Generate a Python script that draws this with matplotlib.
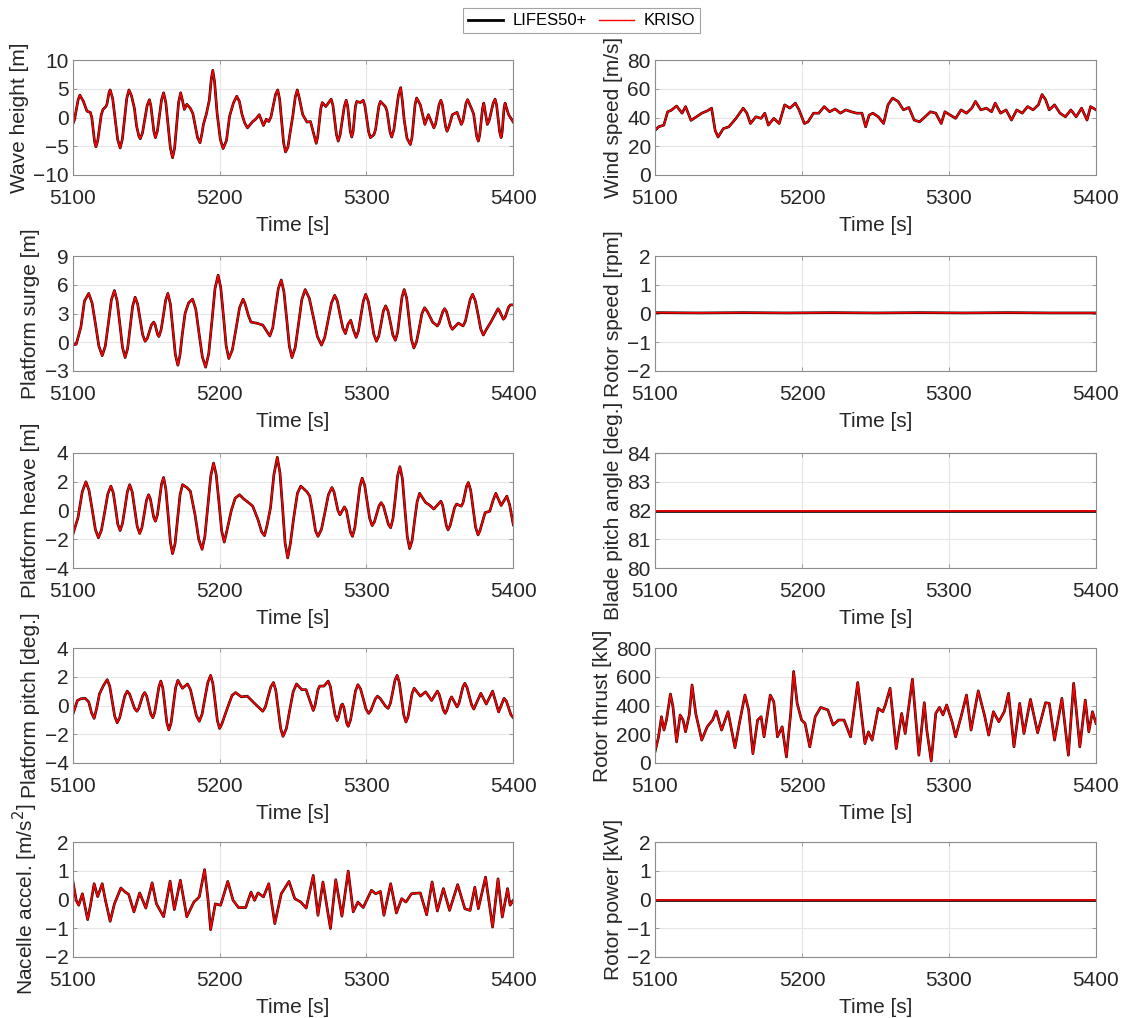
import numpy as np
import matplotlib
matplotlib.use("Agg")
import matplotlib.pyplot as plt

plt.rcParams['font.family'] = ['Liberation Sans', 'DejaVu Sans']

# ---- data: (time [s], value) ----
wave = [(5100, -1.2), (5101.2, -0.4), (5103.7, 3.1), (5104.9, 3.9), (5107.3, 2.8), (5109.7, 1.1),
        (5112, 0.9), (5113, 0.0), (5114.9, -4.2), (5115.8, -5.1), (5117, -4.1), (5119.4, 0.4),
        (5120.6, 1.4), (5122.6, 1.9), (5123.3, 2.3), (5124.8, 4.4), (5125.5, 4.8), (5127.2, 3.3),
        (5130.6, -3.8), (5132.3, -5.3), (5133.8, -3.8), (5136.8, 3.3), (5138.3, 4.8), (5140, 3.8),
        (5142, 1.6), (5143.5, -1.5), (5145, -3.2), (5146, -3.7), (5147.5, -2.7), (5150.7, 2.1),
        (5152.2, 3.1), (5153.2, 2.1), (5155.3, -2.5), (5156.3, -3.5), (5157.7, -2.3), (5160.5, 3.1),
        (5161.9, 4.3), (5163.4, 2.6), (5166.5, -5.3), (5168, -7.0), (5169.4, -5.3), (5172.1, 2.6),
        (5173.5, 4.3), (5174.7, 3.0), (5176, 1.4), (5177.7, 2.3), (5180.1, 1.6), (5181.8, 0.7),
        (5185, -3.5), (5186.7, -4.4), (5188, -2.8), (5189, -1.2), (5191, 0.6), (5193, 3.0),
        (5194.4, 6.8), (5195.4, 8.2), (5196.6, 6.2), (5198.3, 0.8), (5200.5, -3.8), (5202.4, -5.4),
        (5204.7, -4.0), (5206.8, 0.2), (5209.4, 2.5), (5211.7, 3.7), (5213.5, 2.8), (5215.3, 0.5),
        (5217.2, -1.0), (5219, -1.8), (5222.6, -0.7), (5224.6, -0.3), (5227, 0.5), (5229.9, -1.4),
        (5231.8, -0.3), (5233.5, -0.7), (5235, 0.1), (5238.1, 4.0), (5239.6, 4.8), (5240.9, 3.2),
        (5243.6, -4.4), (5244.9, -6.0), (5246.5, -5.2), (5248, -2.7), (5250, 0.5), (5251.5, 3.5),
        (5252.9, 4.8), (5254.2, 3.5), (5256.6, 0.5), (5259.5, -0.8), (5261.9, -0.7), (5264.2, -2.9),
        (5265.8, -4.5), (5266.8, -3.4), (5268.9, 1.5), (5269.9, 2.6), (5272.3, 1.9), (5276, 3.2),
        (5277.2, 2.1), (5279.6, -3.0), (5280.8, -4.1), (5282.1, -3.0), (5284.9, 1.9), (5286.2, 3.0),
        (5287.2, 2.0), (5289, -2.4), (5290, -3.4), (5290.9, -2.5), (5292.5, 1.9), (5293.4, 2.8),
        (5295.9, 2.6), (5297.8, 3.0), (5299, 2.0), (5301.5, -2.5), (5302.7, -3.5), (5305.1, -3.0),
        (5306.2, -2.1), (5308.4, 1.9), (5309.5, 2.8), (5312.9, 1.9), (5314, 1.1), (5316.1, -2.6),
        (5317.2, -3.4), (5318.7, -2.1), (5321.8, 3.9), (5323.3, 5.2), (5324.4, 3.0), (5325.7, -0.4),
        (5327.6, -3.6), (5329.9, -4.7), (5331, -3.5), (5333.1, 2.2), (5334.2, 3.4), (5336.7, 2.2),
        (5339.8, -1.2), (5342.2, 0.5), (5345.9, -1.8), (5347.1, -1.1), (5349.5, 2.3), (5350.7, 3.0),
        (5351.7, 2.2), (5353.9, -1.6), (5354.9, -2.4), (5356.3, -1.5), (5358.5, 0.5), (5361.7, 0.9),
        (5364.6, -1.2), (5365.7, -0.6), (5367.8, 2.5), (5368.9, 3.1), (5371.8, 1.4), (5373, 0.6),
        (5375.1, -3.3), (5376.2, -4.1), (5377.1, -3.1), (5379, 1.5), (5379.9, 2.5), (5382.3, -1.2),
        (5383.6, -0.5), (5386.3, 2.5), (5387.6, 3.2), (5388.6, 2.2), (5390.7, -2.5), (5391.7, -3.5),
        (5392.4, -2.6), (5393.7, 1.6), (5394.4, 2.5), (5396.8, 0.5), (5400, -0.8)]

surge = [(5100, -0.3), (5102.4, -0.2), (5105.6, 1.6), (5108, 4.3), (5110.9, 5.1), (5113.2, 4.1),
         (5115.5, 1.9), (5117.8, -0.4), (5120.1, -1.4), (5122.2, -0.4), (5124.3, 2.0), (5126.3, 4.4),
         (5128.4, 5.4), (5130.2, 4.35), (5132.1, 1.9), (5133.9, -0.55), (5135.7, -1.6), (5137.4, -0.65),
         (5139.1, 1.55), (5140.8, 3.75), (5142.5, 4.7), (5144.2, 4.0), (5145.9, 2.4), (5147.6, 0.8),
         (5149.3, 0.1), (5150.8, 0.4), (5153.6, 1.8), (5155.1, 2.1), (5156, 1.9), (5157.8, 0.8),
         (5158.7, 0.6), (5160.2, 1.3), (5161.8, 2.85), (5163.3, 4.4), (5164.8, 5.1), (5166.5, 4.0),
         (5168.2, 1.35), (5169.9, -1.3), (5171.6, -2.4), (5173, -1.4), (5174.6, 0.8), (5176.5, 3.0),
         (5178.9, 4.1), (5181.6, 4.5), (5183.8, 3.45), (5186, 0.95), (5188.3, -1.55), (5190.5, -2.6),
         (5192.6, -1.2), (5194.8, 2.2), (5196.9, 5.6), (5199, 7.0), (5200.8, 5.7), (5202.7, 2.65),
         (5204.5, -0.4), (5206.3, -1.7), (5208.7, -0.8), (5211.2, 1.4), (5213.6, 3.6), (5216, 4.5),
         (5217.4, 4.0), (5219.6, 2.8), (5221.4, 2.1), (5225, 2.0), (5229.4, 1.8), (5234.2, 0.65),
         (5236.2, 1.5), (5238.1, 3.6), (5240, 5.6), (5242, 6.5), (5243.8, 5.3), (5245.7, 2.45),
         (5247.5, -0.4), (5249.3, -1.6), (5251.5, -0.55), (5253.8, 1.95), (5256, 4.45), (5258.3, 5.5),
         (5261.1, 4.6), (5263.9, 2.6), (5266.6, 0.6), (5269.4, -0.3), (5271.6, 0.5), (5273.9, 2.3),
         (5276.2, 4.1), (5278.4, 4.9), (5280.2, 4.3), (5282, 2.9), (5283.9, 1.5), (5285.7, 0.9),
         (5287.5, 1.9), (5289.3, 2.3), (5291.1, 1.3), (5293, 0.5), (5294.6, 1.2), (5296.2, 2.75),
         (5297.9, 4.3), (5299.5, 5.0), (5301.3, 4.25), (5303.2, 2.55), (5305, 0.85), (5306.8, 0.1),
         (5308.4, 0.65), (5310, 1.95), (5311.5, 3.25), (5313.1, 3.8), (5314.7, 3.25), (5316.4, 2.0),
         (5318, 0.75), (5319.7, 0.2), (5321.2, 1.0), (5322.7, 2.85), (5324.2, 4.7), (5325.7, 5.5),
         (5327.4, 4.6), (5329, 2.45), (5330.6, 0.3), (5332.3, -0.6), (5334.1, 0.05), (5336, 1.5),
         (5337.8, 3.0), (5339.6, 3.6), (5341.5, 3.2), (5345.1, 2.1), (5348.3, 1.7), (5349.5, 2.0),
         (5352, 3.2), (5353.2, 3.5), (5354.5, 3.2), (5357.2, 1.7), (5358.5, 1.35), (5362.6, 2.0),
         (5365.8, 1.7), (5367.4, 2.2), (5369, 3.35), (5370.7, 4.5), (5372.3, 5.0), (5374.1, 4.35),
         (5376, 2.9), (5377.8, 1.4), (5379.6, 0.75), (5381.5, 1.3), (5384.7, 2.1), (5389.6, 3.5),
         (5390.5, 3.3), (5393.2, 2.4), (5394.4, 2.6), (5396.9, 3.7), (5398.1, 3.9), (5400, 3.9)]

heave = [(5100, -1.7), (5103.6, -0.5), (5106.5, 1.3), (5109, 2.0), (5111.1, 1.4), (5113.3, 0.05),
         (5115.4, -1.3), (5117.5, -1.9), (5119.6, -1.35), (5121.8, -0.1), (5123.9, 1.15), (5126, 1.7),
         (5127.6, 1.25), (5129.2, 0.15), (5130.7, -0.95), (5132.3, -1.4), (5133.9, -0.9), (5135.6, 0.2),
         (5137.2, 1.3), (5138.8, 1.8), (5140.5, 1.3), (5142.2, 0.1), (5143.9, -1.1), (5145.6, -1.6),
         (5147.1, -1.2), (5148.7, -0.25), (5150.2, 0.7), (5151.7, 1.1), (5152.9, 0.8), (5155.1, -0.45),
         (5156.3, -0.75), (5157.7, -0.3), (5159.1, 0.8), (5160.5, 1.85), (5161.9, 2.3), (5163.4, 1.5),
         (5165, -0.35), (5166.5, -2.2), (5168, -3.0), (5169.7, -2.3), (5171.4, -0.6), (5173.1, 1.1),
         (5174.8, 1.8), (5177.7, 1.6), (5180.1, 1.35), (5183.3, -0.3), (5185.8, -2.0), (5188.1, -2.7),
         (5190, -1.8), (5192, 0.3), (5194, 2.4), (5195.9, 3.3), (5197.7, 2.5), (5199.6, 0.55),
         (5201.4, -1.4), (5203.2, -2.2), (5205, -1.4), (5208, 0.0), (5210.6, 0.85), (5213.6, 1.1),
         (5216.5, 0.8), (5219.7, 0.55), (5222.6, 0.3), (5226.2, -0.65), (5228.7, -1.5), (5230.6, -1.75),
         (5232.4, -1.0), (5234.7, 0.2), (5237, 2.5), (5239.3, 3.7), (5241.1, 2.65), (5242.9, 0.2),
         (5244.6, -2.25), (5246.4, -3.3), (5248.2, -2.3), (5250.5, -0.5), (5253, 1.2), (5255.3, 1.7),
         (5259.5, 1.3), (5261.4, 1.0), (5263.5, -0.2), (5265.3, -1.4), (5267, -1.8), (5269.4, -1.3),
         (5271.8, -0.1), (5274.1, 1.1), (5276.5, 1.6), (5277.9, 1.3), (5280.6, 0.0), (5282, -0.3),
         (5285, 0.25), (5286.4, 0.0), (5289.1, -1.5), (5290.5, -1.8), (5292.1, -1.2), (5293.8, 0.2),
         (5295.5, 1.65), (5297.1, 2.25), (5298.8, 1.75), (5300.5, 0.6), (5302.2, -0.55), (5303.9, -1.05),
         (5305.4, -0.8), (5308.5, 0.3), (5310, 0.55), (5311.6, 0.3), (5314.9, -0.95), (5316.5, -1.2),
         (5318.1, -0.55), (5319.7, 0.9), (5321.2, 2.4), (5322.8, 3.05), (5324.5, 2.2), (5326.1, 0.2),
         (5327.8, -1.8), (5329.4, -2.65), (5331.1, -2.1), (5332.8, -0.7), (5334.5, 0.6), (5336.2, 1.2),
         (5340.3, 0.55), (5342.7, 0.4), (5345.9, 0.1), (5350.7, 0.65), (5351.9, 0.35), (5354.4, -1.05),
         (5355.6, -1.35), (5357, -1.05), (5360, 0.2), (5361.4, 0.45), (5364.6, 0.3), (5365.8, 0.55),
         (5368.2, 1.7), (5369.4, 1.95), (5371, 1.4), (5372.7, 0.1), (5374.3, -1.15), (5376, -1.7),
         (5377.3, -1.4), (5380.8, -0.15), (5384, -0.05), (5386.2, 0.7), (5388.1, 1.2), (5391.7, 0.35),
         (5395.6, 1.0), (5397.5, 0.4), (5400, -1.0)]

pitch = [(5100, -0.65), (5103.2, 0.35), (5105.6, 0.47), (5108.5, 0.5), (5110.9, 0.25), (5112.8, -0.5),
         (5114.6, -0.9), (5116.3, -0.2), (5118.2, 0.8), (5121, 1.4), (5123.5, 1.8), (5125.2, 1.35),
         (5126.9, 0.3), (5128.6, -0.75), (5130.3, -1.2), (5132, -0.85), (5133.7, -0.1), (5135.4, 0.65),
         (5137.1, 1.0), (5138.7, 0.8), (5142.1, -0.2), (5143.7, -0.4), (5145, -0.2), (5147.7, 0.7),
         (5149, 0.9), (5150.4, 0.65), (5153.2, -0.6), (5154.6, -0.85), (5155.9, -0.45), (5158.7, 1.3),
         (5160, 1.7), (5161.4, 1.2), (5164.1, -1.2), (5165.5, -1.7), (5167, -1.2), (5170.1, 1.25),
         (5171.6, 1.75), (5174.7, 1.2), (5178.2, 1.5), (5180.2, 1.1), (5182.2, 0.2), (5184.2, -0.7),
         (5186.2, -1.1), (5188.1, -0.6), (5190, 0.5), (5192, 1.6), (5193.9, 2.1), (5195.4, 1.55),
         (5197, 0.25), (5198.5, -1.05), (5200, -1.6), (5201.5, -1.3), (5205.6, -0.1), (5208.5, 0.7),
         (5210.9, 0.9), (5214.8, 0.6), (5218.9, 0.65), (5223.8, 0.15), (5229.4, -0.4), (5231.2, -0.1),
         (5233, 0.6), (5234.9, 1.3), (5236.7, 1.6), (5238.3, 1.05), (5240, -0.3), (5241.6, -1.6),
         (5243.2, -2.15), (5245.5, -1.6), (5247.8, -0.3), (5250.1, 0.95), (5252.4, 1.5), (5256, 1.1),
         (5258.9, 1.1), (5261.3, 0.4), (5263.8, -0.35), (5265, 0.0), (5267, 1.1), (5268.2, 1.35),
         (5271.1, 1.35), (5274, 1.7), (5275.5, 1.3), (5277, 0.3), (5278.6, -0.65), (5280.1, -1.05),
         (5281, -0.8), (5282.8, 0.0), (5283.7, 0.1), (5284.7, -0.15), (5286.6, -1.25), (5287.6, -1.45),
         (5289.2, -1.0), (5290.9, 0.0), (5292.5, 1.0), (5294.2, 1.45), (5296, 1.15), (5297.9, 0.45),
         (5299.7, -0.25), (5301.5, -0.55), (5303, -0.35), (5306, 0.45), (5307.5, 0.65), (5309.3, 0.5),
         (5313, -0.05), (5314.8, -0.2), (5316.3, 0.15), (5317.9, 0.95), (5319.4, 1.75), (5320.9, 2.1),
         (5322.4, 1.6), (5323.9, 0.5), (5325.4, -0.65), (5326.9, -1.15), (5328.3, -0.8), (5331.1, 0.85),
         (5332.5, 1.2), (5336.7, 0.65), (5340.3, 0.95), (5344.4, 0.35), (5348.3, 1.0), (5349.6, 0.75),
         (5352.3, -0.3), (5353.6, -0.55), (5354.7, -0.35), (5356.9, 0.4), (5358, 0.6), (5361.7, -0.1),
         (5363, 0.15), (5365.7, 1.3), (5367, 1.55), (5368.5, 1.25), (5371.6, 0.05), (5373.1, -0.25),
         (5377.9, 0.85), (5381.6, 0.1), (5385.9, 1.0), (5390, -0.45), (5393.7, 0.5), (5395.3, 0.3),
         (5398.4, -0.65), (5400, -0.85)]

nacelle = [(5100, 0.67), (5102.4, -0.03), (5104.1, -0.2), (5106.6, 0.2), (5110.2, -0.7), (5112.1, -0.2),
           (5114.6, 0.55), (5117, 0.1), (5120.1, 0.55), (5122.3, -0.03), (5125.5, -0.76), (5128.4, -0.15),
           (5132.8, 0.4), (5135.7, 0.26), (5138.1, 0.18), (5141.7, -0.43), (5145.6, 0.23), (5149.8, -0.3),
           (5154.1, 0.58), (5157, -0.15), (5161.9, -0.6), (5166.3, 0.64), (5169.2, -0.35), (5173.3, 0.67),
           (5177.7, -0.6), (5182.5, -0.09), (5186.2, 0.09), (5189.8, 1.04), (5192.2, -0.03), (5193.9, -1.05),
           (5197.1, -0.15), (5200.7, -0.2), (5205.6, 0.63), (5209.2, -0.03), (5212.9, -0.28), (5217.8, -0.28),
           (5221.4, 0.26), (5223.8, -0.03), (5226.2, 0.23), (5229.9, 0.09), (5233.5, 0.55), (5237.6, -0.84),
           (5242, 0.2), (5247.3, 0.63), (5251.2, 0.03), (5255.3, -0.09), (5259, -0.3), (5263.8, 0.84),
           (5267, -0.55), (5270.4, 0.61), (5275.5, -1.01), (5279.1, 0.69), (5283.3, -0.58), (5287.6, 0.99),
           (5291, -0.43), (5294.2, -0.09), (5297.8, -0.28), (5303.4, 0.32), (5306.3, 0.2), (5309.5, 0.28),
           (5311.9, -0.55), (5316.5, 0.55), (5320.4, -0.47), (5324, 0.03), (5326.9, -0.09), (5330.6, 0.2),
           (5336.7, 0.23), (5341, -0.53), (5344.7, 0.61), (5348.3, -0.4), (5352.4, 0.38), (5356.6, -0.38),
           (5362.1, 0.52), (5367, -0.32), (5370.6, -0.38), (5373.8, 0.43), (5376.2, -0.32), (5381.1, 0.78),
           (5385.9, -0.96), (5389.6, 0.72), (5392.5, -0.61), (5396.1, 0.38), (5397.8, -0.2), (5400, -0.03)]

wind = [(5100, 31), (5102.4, 33.5), (5106, 34.7), (5108.6, 44), (5111, 45), (5114.7, 48), (5118.4, 43),
        (5120.8, 47.6), (5124.5, 38), (5128.2, 40.5), (5131.8, 43), (5135.5, 44.6), (5138.5, 46.5),
        (5140.9, 31), (5142.9, 26.4), (5146.5, 32.3), (5150.2, 33.5), (5155.1, 39.4), (5160, 46.5),
        (5162.5, 43), (5164.9, 35.8), (5168.6, 40.5), (5172.2, 39.4), (5174.7, 43), (5177.1, 34.7),
        (5180.8, 39.4), (5184.5, 35.8), (5188.2, 48.8), (5191.8, 46.5), (5195.5, 50), (5198, 45.3),
        (5201.6, 35.8), (5204.1, 37), (5207.8, 43), (5211.4, 43), (5215.1, 47.6), (5218.8, 44),
        (5222.5, 46), (5226.1, 43), (5229.8, 45.3), (5233.5, 44), (5237.2, 43), (5240.8, 43),
        (5243.3, 33.5), (5245.7, 41.7), (5248.2, 43), (5251.9, 40.5), (5255.5, 35.8), (5258.5, 48.8),
        (5261.6, 53.5), (5265.3, 51.2), (5269, 45.3), (5272.7, 47), (5276.3, 38.2), (5280, 37),
        (5283.7, 40.5), (5287.4, 44), (5291, 43), (5294.7, 35.8), (5297.2, 44), (5300.8, 41.7),
        (5304.5, 39.4), (5308.2, 45.3), (5311.9, 43), (5315.5, 46.5), (5318, 51.2), (5321.6, 45.3),
        (5325.3, 46.5), (5329, 44), (5331.4, 50), (5335.1, 43), (5338.8, 45.3), (5342.5, 38.2),
        (5346.1, 45.3), (5349.8, 43), (5353.5, 47.6), (5357.2, 45.3), (5360.8, 48.8), (5363.3, 56),
        (5365.7, 52.4), (5368.2, 45.3), (5371.8, 48.8), (5375.5, 43), (5379.2, 40.5), (5382.9, 45.3),
        (5386.5, 40.5), (5390.2, 46.5), (5393.9, 38.2), (5396.3, 47.6), (5400, 45.3)]

rotor_speed = [(5100, 0.03), (5130, 0.02), (5160, 0.03), (5190, 0.02), (5220, 0.03), (5250, 0.02),
               (5280, 0.03), (5310, 0.02), (5340, 0.03), (5370, 0.02), (5400, 0.02)]

blade_pitch = [(5100, 82.0), (5400, 82.0)]

thrust = [(5100, 77), (5102.4, 182), (5104.4, 322), (5106.1, 229), (5107.8, 299), (5110.5, 480),
          (5112.2, 392), (5114.7, 147), (5117.1, 334), (5119.1, 299), (5120.8, 217), (5123.3, 334),
          (5125.2, 543), (5127.7, 345), (5131.8, 159), (5135.5, 252), (5139.2, 299), (5141.6, 362),
          (5145.3, 229), (5149.7, 357), (5154.4, 107), (5157.6, 287), (5161.2, 473), (5163.7, 369),
          (5166.6, 65), (5169.8, 299), (5172.2, 322), (5174.2, 182), (5178.4, 473), (5180.8, 427),
          (5183.3, 182), (5186.5, 252), (5189.4, 42), (5192.3, 345), (5194.3, 637), (5196.7, 415),
          (5199.7, 299), (5202.1, 275), (5205.3, 112), (5209, 322), (5212.7, 387), (5217.6, 369),
          (5221.2, 264), (5224.9, 299), (5228.6, 299), (5233, 182), (5237.9, 560), (5242.8, 135),
          (5245.2, 217), (5247.7, 159), (5251.8, 380), (5255, 357), (5256.7, 404), (5259.9, 520),
          (5264.1, 100), (5267.8, 345), (5270.2, 205), (5275.1, 583), (5279.5, 54), (5283.2, 420),
          (5284.9, 229), (5287.9, 14), (5291, 345), (5293.5, 387), (5295.9, 334), (5298.4, 404),
          (5302.1, 287), (5304.5, 182), (5308.2, 322), (5311.9, 473), (5315, 229), (5319.9, 502),
          (5324.1, 334), (5327, 194), (5330.2, 357), (5333.9, 287), (5337.6, 357), (5340.5, 485),
          (5344.2, 112), (5348.1, 415), (5351, 205), (5355.4, 443), (5360.3, 210), (5365.7, 420),
          (5368.2, 415), (5371.8, 159), (5376.8, 450), (5381.2, 54), (5384.8, 555), (5389, 112),
          (5392.7, 438), (5395.1, 217), (5397.6, 357), (5400, 275)]

rotor_power = [(5100, 0.0), (5400, 0.0)]

# (series, ylabel, ylim, yticks)
left_panels = [
    (wave, 'Wave height [m]', (-10, 10), [-10, -5, 0, 5, 10]),
    (surge, 'Platform surge [m]', (-3, 9), [-3, 0, 3, 6, 9]),
    (heave, 'Platform heave [m]', (-4, 4), [-4, -2, 0, 2, 4]),
    (pitch, 'Platform pitch [deg.]', (-4, 4), [-4, -2, 0, 2, 4]),
    (nacelle, 'Nacelle accel. [m/s$^2$]', (-2, 2), [-2, -1, 0, 1, 2]),
]
right_panels = [
    (wind, 'Wind speed [m/s]', (0, 80), [0, 20, 40, 60, 80]),
    (rotor_speed, 'Rotor speed [rpm]', (-2, 2), [-2, -1, 0, 1, 2]),
    (blade_pitch, 'Blade pitch angle [deg.]', (80, 84), [80, 81, 82, 83, 84]),
    (thrust, 'Rotor thrust [kN]', (0, 800), [0, 200, 400, 600, 800]),
    (rotor_power, 'Rotor power [kW]', (-2, 2), [-2, -1, 0, 1, 2]),
]

W, H = 1126, 1018
fig = plt.figure(figsize=(W / 100, H / 100), dpi=100)

tops = [60, 256, 453, 648, 842]
ax_h = 115
cols = [(72.7, 440.6, left_panels), (655, 441, right_panels)]
axis_col = '#8c8c8c'
text_col = '#262626'

handles = None
for x0, w, panels in cols:
    for top, (series, lab, yl, yt) in zip(tops, panels):
        t = [p[0] for p in series]
        v = [p[1] for p in series]
        ax = fig.add_axes([x0 / W, 1 - (top + ax_h) / H, w / W, ax_h / H])
        # both models overlay almost exactly, KRISO drawn on top
        h1, = ax.plot(t, v, color='black', lw=1.9, solid_joinstyle='round')
        h2, = ax.plot(t, v, color='red', lw=1.2, solid_joinstyle='round')
        handles = [h1, h2]
        ax.set_xlim(5100, 5400)
        ax.set_xticks([5100, 5200, 5300, 5400])
        ax.set_ylim(*yl)
        ax.set_yticks(yt)
        ax.set_xlabel('Time [s]', fontsize=15, color=text_col, labelpad=6)
        ax.set_ylabel(lab, fontsize=15, color=text_col, labelpad=3)
        ax.tick_params(axis='x', pad=10)
        ax.tick_params(axis='y', pad=3)
        ax.tick_params(labelsize=15, direction='in', length=3, width=0.6,
                       top=True, right=True, color=axis_col, labelcolor=text_col)
        ax.grid(True, color='#e6e6e6', lw=0.8)
        ax.set_axisbelow(True)
        for s in ax.spines.values():
            s.set_color(axis_col)
            s.set_linewidth(0.8)

leg = fig.legend(handles, ['LIFES50+', 'KRISO'], loc='upper center',
                 bbox_to_anchor=(581.5 / W, 1 - 5 / H), ncol=2, fontsize=12,
                 frameon=True, fancybox=False, edgecolor='#8c8c8c',
                 handlelength=2.1, columnspacing=0.7, borderpad=0.3,
                 handletextpad=0.6, borderaxespad=0.2)
leg.get_frame().set_linewidth(0.8)
for lh, lw in zip(leg.get_lines(), [2.0, 1.0]):
    lh.set_linewidth(lw)

fig.savefig('out.png', dpi=100)
